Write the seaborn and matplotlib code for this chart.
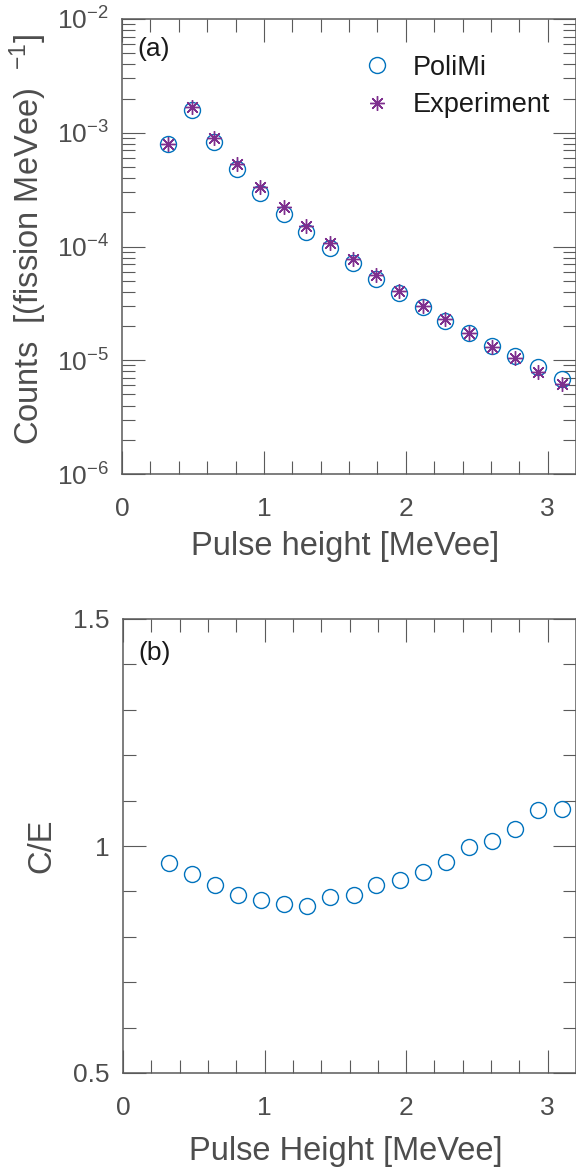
import numpy as np
import pandas as pd
import matplotlib
matplotlib.use("Agg")
import matplotlib.pyplot as plt
import matplotlib.ticker as mticker
import seaborn as sns

# ---- data ----
pulse_height = [0.325, 0.49, 0.65, 0.81, 0.975, 1.14, 1.30, 1.465, 1.63,
                1.79, 1.955, 2.12, 2.28, 2.445, 2.61, 2.77, 2.935, 3.10]
polimi = [7.9e-4, 1.58e-3, 8.35e-4, 4.77e-4, 2.97e-4, 1.95e-4, 1.33e-4, 9.7e-5,
          7.1e-5, 5.18e-5, 3.87e-5, 2.92e-5, 2.23e-5, 1.73e-5, 1.34e-5, 1.09e-5,
          8.77e-6, 6.84e-6]
experiment = [8.0e-4, 1.67e-3, 9.05e-4, 5.28e-4, 3.33e-4, 2.21e-4, 1.52e-4, 1.07e-4,
              7.76e-5, 5.6e-5, 4.09e-5, 3.01e-5, 2.29e-5, 1.73e-5, 1.32e-5, 1.04e-5,
              7.93e-6, 6.18e-6]
c_over_e = [0.962, 0.938, 0.913, 0.892, 0.881, 0.872, 0.868, 0.888, 0.893,
            0.913, 0.925, 0.943, 0.965, 0.997, 1.012, 1.037, 1.079, 1.081]
legend_labels = ["PoliMi", "Experiment"]

BLUE = "#0072BD"
PURPLE = "#7E2F8E"
TXT = "#4D4D4D"
DARK = "#1A1A1A"
AX = "#5A5A5A"

sns.set_theme(style="ticks")
plt.rcParams["font.family"] = ["Liberation Sans", "DejaVu Sans"]
plt.rcParams["mathtext.fontset"] = "custom"
plt.rcParams["mathtext.rm"] = "Liberation Sans"
plt.rcParams["mathtext.it"] = "Liberation Sans:italic"
plt.rcParams["mathtext.bf"] = "Liberation Sans:bold"
plt.rcParams["axes.unicode_minus"] = False

df = pd.DataFrame({"x": pulse_height, "polimi": polimi,
                   "experiment": experiment, "ce": c_over_e})

fig = plt.figure(figsize=(5.76, 11.71), dpi=100)
ax1 = fig.add_axes([122 / 576, 1 - 474 / 1171, 1 - 122 / 576, 455 / 1171])
ax2 = fig.add_axes([123 / 576, 1 - 1073 / 1171, 1 - 123 / 576, 454 / 1171])

TICK_FS = 19
LEG_FS = 19.5
LABEL_FS = 23.5

# ---- top panel ----
sns.lineplot(data=df, x="x", y="polimi", ax=ax1, estimator=None, sort=False,
             linestyle="", marker="o", markersize=11.5, markerfacecolor="none",
             markeredgecolor=BLUE, markeredgewidth=1.0, color=BLUE,
             label=legend_labels[0])
sns.lineplot(data=df, x="x", y="experiment", ax=ax1, estimator=None, sort=False,
             linestyle="", marker=(8, 2, 0), markersize=10.5,
             markeredgecolor=PURPLE, markeredgewidth=1.0, color=PURPLE,
             label=legend_labels[1])
ax1.set_yscale("log")
ax1.set_xlim(0, 3.2)
ax1.set_ylim(1e-6, 1e-2)
ax1.yaxis.set_major_locator(mticker.LogLocator(base=10, numticks=10))
ax1.yaxis.set_minor_locator(mticker.LogLocator(base=10, subs=np.arange(2, 10), numticks=20))
ax1.yaxis.set_minor_formatter(mticker.NullFormatter())

# ---- bottom panel ----
sns.lineplot(data=df, x="x", y="ce", ax=ax2, estimator=None, sort=False,
             linestyle="", marker="o", markersize=11.5, markerfacecolor="none",
             markeredgecolor=BLUE, markeredgewidth=1.0, color=BLUE, legend=False)
ax2.set_xlim(0, 3.2)
ax2.set_ylim(0.5, 1.5)
ax2.yaxis.set_major_locator(mticker.FixedLocator([0.5, 1.0, 1.5]))
ax2.yaxis.set_major_formatter(mticker.FixedFormatter(["0.5", "1", "1.5"]))
ax2.yaxis.set_minor_locator(mticker.MultipleLocator(0.1))

for ax in (ax1, ax2):
    ax.xaxis.set_major_locator(mticker.MultipleLocator(1))
    ax.xaxis.set_minor_locator(mticker.MultipleLocator(0.2))
    ax.tick_params(which="both", direction="in", top=True, right=True,
                   color=AX, width=0.8, labelcolor=TXT, labelsize=TICK_FS)
    ax.tick_params(which="major", length=16.5)
    ax.tick_params(which="minor", length=9.5)
    ax.tick_params(axis="x", which="major", pad=16.5)
    ax.tick_params(axis="y", which="major", pad=9.5)
    for sp in ax.spines.values():
        sp.set_color(AX)
        sp.set_linewidth(1.1)
    ax.grid(False)

ax1.set_xlabel("Pulse height [MeVee]", fontsize=LABEL_FS, color=TXT, va="baseline")
ax1.xaxis.set_label_coords(0.492, (474 - 555) / 455)
ax1.set_ylabel(r"Counts  [(fission MeVee)  $^{\mathdefault{-1}}$]", fontsize=LABEL_FS,
               color=TXT, va="center")
ax1.yaxis.set_label_coords((28 - 122) / 454, 0.515)

ax2.set_xlabel("Pulse Height [MeVee]", fontsize=LABEL_FS, color=TXT, va="baseline")
ax2.xaxis.set_label_coords(0.492, (1073 - 1160) / 454)
ax2.set_ylabel("C/E", fontsize=LABEL_FS, color=TXT, va="center")
ax2.yaxis.set_label_coords((42 - 123) / 453, 0.5)

ax1.text(0.033, 0.934, "(a)", transform=ax1.transAxes, fontsize=TICK_FS,
         color=DARK, ha="left", va="center")
ax2.text(0.033, 0.925, "(b)", transform=ax2.transAxes, fontsize=TICK_FS,
         color=DARK, ha="left", va="center")

leg = ax1.legend(loc="center left", bbox_to_anchor=(0.5264, 0.852), frameon=False,
                 fontsize=LEG_FS, handlelength=1.2, handletextpad=0.7,
                 labelspacing=0.42, borderpad=0, borderaxespad=0)
for t in leg.get_texts():
    t.set_color(DARK)

fig.savefig("out.png", dpi=100)
